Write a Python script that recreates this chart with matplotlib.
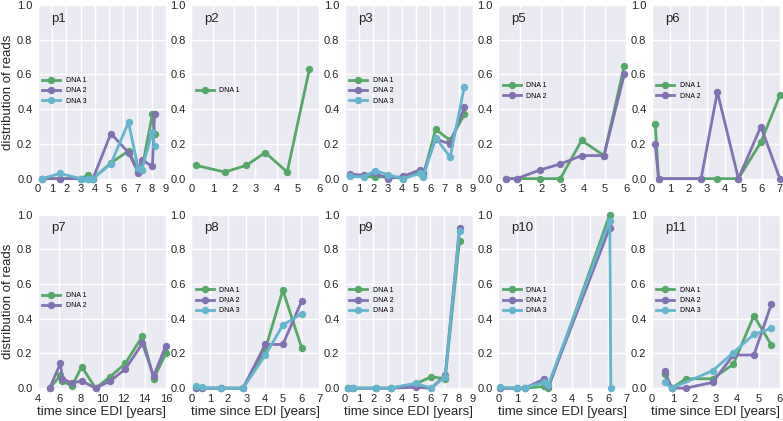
import matplotlib
matplotlib.use("Agg")
import matplotlib.pyplot as plt
import numpy as np

# ---------------- data ----------------
panel_names = ["p1", "p2", "p3", "p5", "p6", "p7", "p8", "p9", "p10", "p11"]
panel_xlims = [(0, 9), (0, 6), (0, 9), (0, 6), (0, 7), (4, 16), (0, 7), (0, 9), (0, 7), (0, 6)]
panel_xsteps = [1, 1, 1, 1, 1, 2, 1, 1, 1, 1]
series_labels = ["DNA 1", "DNA 2", "DNA 3"]
y_ticks = [0.0, 0.2, 0.4, 0.6, 0.8, 1.0]

p1_t = [0.3, 1.55, 3.0, 3.55, 3.87, 5.13, 6.37, 7.05, 7.3, 8.05, 8.2]
p1_dna1 = [0, 0, 0, 0.02, 0, 0.09, 0.16, 0.05, 0.05, 0.37, 0.26]
p1_dna2 = [0, 0, 0, 0, 0, 0.26, 0.15, 0.035, 0.11, 0.07, 0.37]
p1_dna3 = [0, 0.03, 0, 0, 0, 0.085, 0.325, 0.06, 0.05, 0.27, 0.19]

p2_t = [0.23, 1.56, 2.57, 3.46, 4.49, 5.53]
p2_dna1 = [0.076, 0.038, 0.076, 0.15, 0.038, 0.63]

p3_t = [0.35, 1.35, 2.1, 3.04, 4.1, 5.26, 5.5, 6.38, 7.4, 8.4]
p3_dna1 = [0.023, 0.013, 0.01, 0.013, 0, 0.04, 0.013, 0.285, 0.22, 0.37]
p3_dna2 = [0.025, 0.02, 0.03, 0, 0.013, 0.05, 0.03, 0.227, 0.2, 0.41]
p3_dna3 = [0.013, 0.01, 0.045, 0.023, 0, 0.03, 0.01, 0.236, 0.124, 0.53]

p5_t = [0.34, 0.86, 1.95, 2.9, 3.9, 4.95, 5.9]
p5_dna1 = [0, 0, 0, 0, 0.22, 0.133, 0.65]
p5_dna2 = [0, 0, 0.05, 0.084, 0.133, 0.133, 0.6]

p6_t = [0.18, 0.36, 2.69, 3.58, 4.73, 5.96, 7.0]
p6_dna1 = [0.315, 0, 0, 0, 0, 0.21, 0.48]
p6_dna2 = [0.2, 0, 0, 0.5, 0, 0.3, 0]

p7_t = [5.1, 6.1, 6.3, 7.2, 8.1, 9.4, 10.8, 12.2, 13.8, 14.85, 16.0]
p7_dna1 = [0, 0.073, 0.04, 0.013, 0.124, 0, 0.067, 0.143, 0.3, 0.054, 0.2]
p7_dna2 = [0, 0.143, 0.054, 0.029, 0.042, 0, 0.042, 0.11, 0.258, 0.07, 0.245]

p8_t = [0.27, 0.55, 1.6, 2.82, 4.04, 5.0, 6.04]
p8_dna1 = [0, 0, 0, 0, 0.224, 0.564, 0.23]
p8_dna2 = [0, 0, 0, 0, 0.252, 0.252, 0.503]
p8_dna3 = [0.015, 0.004, 0, 0, 0.19, 0.363, 0.43]

p9_t = [0.2, 0.58, 2.17, 3.22, 4.97, 6.07, 7.05, 8.06]
p9_dna1 = [0, 0, 0, 0, 0.025, 0.065, 0.055, 0.85]
p9_dna2 = [0, 0, 0, 0, 0.005, 0, 0.075, 0.925]
p9_dna3 = [0, 0, 0, 0, 0.028, 0, 0.065, 0.905]

p10_t = [0.09, 1.0, 1.45, 2.5, 2.73, 6.09]
p10_dna1 = [0, 0, 0, 0.01, 0, 1.0]
p10_dna2 = [0, 0, 0, 0.053, 0.01, 0.925]
p10_t3 = [0.09, 1.0, 1.45, 2.5, 2.73, 6.09, 6.15]
p10_dna3 = [0.005, 0, 0.003, 0.035, 0.02, 0.965, 0]

p11_t = [0.59, 0.93, 1.59, 2.84, 3.82, 4.78, 5.6]
p11_dna1 = [0.08, 0, 0.054, 0.054, 0.138, 0.417, 0.249]
p11_dna2 = [0.096, 0, 0, 0.033, 0.191, 0.191, 0.484]
p11_t3 = [0.59, 0.93, 2.84, 3.82, 4.78, 5.6]
p11_dna3 = [0.034, 0, 0.1, 0.205, 0.31, 0.345]

panel_series = [
    [(p1_t, p1_dna1), (p1_t, p1_dna2), (p1_t, p1_dna3)],
    [(p2_t, p2_dna1)],
    [(p3_t, p3_dna1), (p3_t, p3_dna2), (p3_t, p3_dna3)],
    [(p5_t, p5_dna1), (p5_t, p5_dna2)],
    [(p6_t, p6_dna1), (p6_t, p6_dna2)],
    [(p7_t, p7_dna1), (p7_t, p7_dna2)],
    [(p8_t, p8_dna1), (p8_t, p8_dna2), (p8_t, p8_dna3)],
    [(p9_t, p9_dna1), (p9_t, p9_dna2), (p9_t, p9_dna3)],
    [(p10_t, p10_dna1), (p10_t, p10_dna2), (p10_t3, p10_dna3)],
    [(p11_t, p11_dna1), (p11_t, p11_dna2), (p11_t3, p11_dna3)],
]

# ---------------- style ----------------
colors = ["#55A868", "#8172B2", "#64B5CD"]
plt.rcParams['font.family'] = ['Liberation Sans', 'DejaVu Sans']

fig, axes = plt.subplots(2, 5, figsize=(7.83, 4.21), dpi=100)
fig.subplots_adjust(left=0.0485, right=0.996, top=0.988, bottom=0.078,
                    wspace=0.2, hspace=0.207)

for i, ax in enumerate(axes.flat):
    ax.set_facecolor("#EAEAF2")
    for s in ax.spines.values():
        s.set_visible(False)
    ax.grid(True, color="white", linewidth=1.0)
    ax.set_axisbelow(True)
    for j, (t, v) in enumerate(panel_series[i]):
        ax.plot(t, v, "-o", color=colors[j], lw=2.0, ms=4.3,
                label=series_labels[j], clip_on=False, zorder=3)
    x0, x1 = panel_xlims[i]
    ax.set_xlim(x0, x1)
    ax.set_ylim(0, 1.0)
    ax.set_xticks(np.arange(x0, x1 + 0.01, panel_xsteps[i]))
    ax.set_yticks(y_ticks)
    ax.set_yticklabels([f"{y:.1f}" for y in y_ticks])
    ax.tick_params(length=0, labelsize=8, colors="#262626", pad=4)
    ax.text(0.1, 0.92, panel_names[i], transform=ax.transAxes,
            fontsize=9.5, color="#262626", va="center", ha="left")
    ax.legend(loc="center left", bbox_to_anchor=(0.0, 0.505), frameon=False,
              fontsize=5, handlelength=2.6, borderaxespad=0.2,
              labelspacing=0.45, handletextpad=0.8)
    if i % 5 == 0:
        ax.set_ylabel("distribution of reads", fontsize=9.5, color="#262626", labelpad=2)
    if i >= 5:
        ax.set_xlabel("time since EDI [years]", fontsize=9.5, color="#262626", labelpad=2)

fig.savefig("out.png", dpi=100)
